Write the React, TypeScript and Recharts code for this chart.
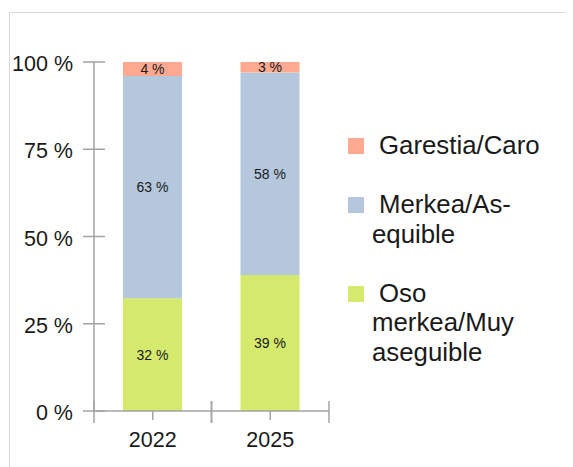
import { BarChart, Bar, XAxis, YAxis, Legend, LabelList } from 'recharts'

const categories = ['2022', '2025']
const cheap = [32, 39]
const affordable = [63, 58]
const expensive = [4, 3]
const yTicks = [0, 0.25, 0.5, 0.75, 1]
const yTickLabels = ['0 %', '25 %', '50 %', '75 %', '100 %']

const series = [
  { key: 'cheap', name: 'Oso merkea/Muy aseguible', color: '#d5e96d' },
  { key: 'affordable', name: 'Merkea/As-equible', color: '#b4c7dd' },
  { key: 'expensive', name: 'Garestia/Caro', color: '#ffaa90' },
]
const legendOrder = ['expensive', 'affordable', 'cheap']

const data = categories.map((year, i) => ({
  year,
  cheap: cheap[i],
  affordable: affordable[i],
  expensive: expensive[i],
}))

const FONT = '"Liberation Sans", Arial, sans-serif'
const AXIS = '#a3a3a3'
const TEXT = '#1a1a1a'
const PLOT_W = 235
const BAND = PLOT_W / categories.length

function YTick({ x, y, payload }: any) {
  const idx = yTicks.indexOf(payload.value)
  return (
    <g>
      <line x1={x - 11} x2={x + 11} y1={y} y2={y} stroke={AXIS} strokeWidth={1.5} />
      <text x={x - 21} y={y + 9} textAnchor="end" fontSize={21.5} fill={TEXT} fontFamily={FONT}>
        {yTickLabels[idx]}
      </text>
    </g>
  )
}

// category tick in the middle, longer ticks at the band edges
function CategoryTick({ x, y, payload }: any) {
  return (
    <g>
      <line x1={x} x2={x} y1={y} y2={y + 9} stroke={AXIS} strokeWidth={1.5} />
      <line x1={x - BAND / 2} x2={x - BAND / 2} y1={y - 10} y2={y + 12} stroke={AXIS} strokeWidth={1.5} />
      <line x1={x + BAND / 2} x2={x + BAND / 2} y1={y - 10} y2={y + 12} stroke={AXIS} strokeWidth={1.5} />
      <text x={x} y={y + 36} textAnchor="middle" fontSize={21.5} fill={TEXT} fontFamily={FONT}>
        {payload.value}
      </text>
    </g>
  )
}

function LegendContent({ payload }: any) {
  const items = [...(payload || [])].sort(
    (a: any, b: any) => legendOrder.indexOf(a.dataKey) - legendOrder.indexOf(b.dataKey)
  )
  return (
    <div style={{ fontFamily: FONT, fontSize: 25.8, color: TEXT, lineHeight: '29.5px' }}>
      {items.map((it: any) => (
        <div key={it.dataKey} style={{ position: 'relative', paddingLeft: 24, marginBottom: 29.5 }}>
          <span
            style={{
              position: 'absolute',
              left: 0,
              top: 7,
              width: 16,
              height: 16,
              background: it.color,
            }}
          />
          <div style={{ textIndent: 7 }}>{it.value}</div>
        </div>
      ))}
    </div>
  )
}

export default function App() {
  return (
    <div
      style={{
        marginLeft: 1,
        marginTop: 4,
        width: 563,
        height: 454,
        borderTop: '1px solid #d9d9d9',
        borderLeft: '1px solid #d9d9d9',
        overflow: 'hidden',
      }}
    >
      <BarChart
        width={563}
        height={454}
        data={data}
        stackOffset="expand"
        margin={{ top: 49, right: 563 - 84 - PLOT_W, bottom: 0, left: 0 }}
      >
        <XAxis dataKey="year" height={56} axisLine={{ stroke: AXIS, strokeWidth: 1.5 }}
          tickLine={false} tickSize={0} tickMargin={0} tick={<CategoryTick />} />
        <YAxis width={84} domain={[0, 1]} ticks={yTicks} axisLine={{ stroke: AXIS, strokeWidth: 1.5 }}
          tickLine={false} tickSize={0} tickMargin={0} tick={<YTick />} />
        <Legend layout="vertical" align="center" verticalAlign="middle" content={<LegendContent />}
          wrapperStyle={{ left: 338, top: 118, width: 180 }} />
        {series.map((s) => (
          <Bar key={s.key} dataKey={s.key} name={s.name} stackId="a" fill={s.color} barSize={59}
            isAnimationActive={false}>
            <LabelList dataKey={s.key} position="center" formatter={(v: any) => `${v} %`}
              fontSize={14} fill={TEXT} fontFamily={FONT} />
          </Bar>
        ))}
      </BarChart>
    </div>
  )
}
